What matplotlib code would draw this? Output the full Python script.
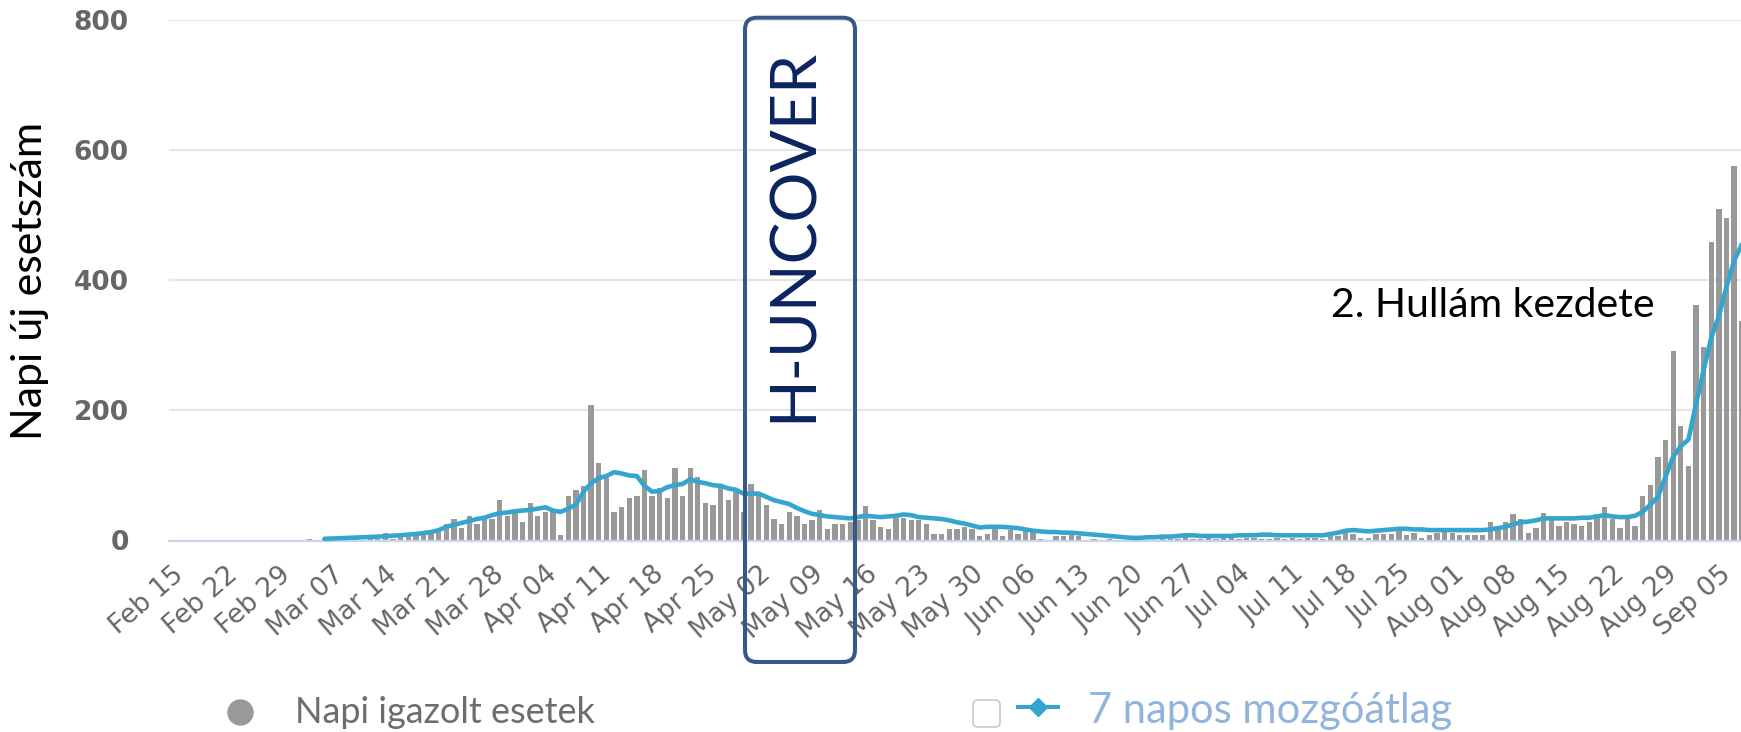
import numpy as np
import pandas as pd
import matplotlib
matplotlib.use("Agg")
import matplotlib.pyplot as plt
from matplotlib.patches import FancyBboxPatch
from matplotlib.lines import Line2D

# napi igazolt esetek 2020-03-04-tol, soronkent egy het
case_start = "2020-03-04"
daily_cases = [
    2, 0, 2, 3, 0, 2, 3,
    1, 3, 3, 11, 2, 7, 5,
    7, 8, 10, 14, 26, 33, 19,
    37, 26, 37, 33, 62, 37, 44,
    29, 58, 37, 44, 44, 8, 69,
    77, 84, 209, 119, 96, 44, 51,
    66, 69, 109, 69, 80, 66, 112,
    69, 112, 98, 58, 55, 80, 62,
    77, 44, 87, 73, 55, 33, 26,
    44, 37, 26, 31, 47, 18, 25,
    25, 28, 31, 53, 31, 21, 18,
    35, 35, 31, 31, 25, 10, 10,
    18, 18, 21, 18, 7, 10, 18,
    7, 16, 10, 14, 14, 3, 0,
    7, 7, 10, 7, 0, 3, 1,
    2, 0, 1, 2, 1, 0, 1,
    3, 3, 2, 5, 2, 2, 4,
    2, 4, 4, 2, 4, 4, 2,
    2, 4, 2, 4, 2, 4, 4,
    2, 7, 7, 18, 10, 4, 4,
    10, 10, 10, 21, 8, 11, 4,
    8, 11, 13, 11, 8, 8, 8,
    8, 29, 22, 29, 40, 33, 11,
    19, 43, 33, 22, 29, 25, 22,
    29, 40, 51, 33, 19, 33, 22,
    68, 86, 129, 154, 291, 176, 115,
    362, 298, 459, 510, 496, 575, 337,
]

# 7 napos mozgoatlag 2020-03-06-tol
avg_start = "2020-03-06"
moving_avg = [
    2.6, 3, 3.5, 4, 4.5,
    5, 5.5, 6, 6.5, 7.5, 8, 9,
    10, 11.5, 13, 16, 21, 24, 27,
    30, 33, 35, 39, 42, 43, 45,
    46, 47, 49, 51, 46, 44, 49,
    55, 75, 88, 96, 99, 105, 103,
    100, 99, 84, 75, 76, 82, 85,
    87, 94, 90, 88, 85, 84, 80,
    78, 72, 72, 72, 67, 62, 59,
    56, 50, 45, 41, 39, 37, 36,
    35, 34, 36, 38, 37, 36, 37,
    38, 40, 39, 36, 35, 34, 33,
    31, 28, 26, 23, 20, 21, 21,
    21, 20, 19, 17, 15, 14, 13,
    13, 12, 12, 11, 10, 9, 8,
    7, 6, 5, 4, 4, 5, 5,
    6, 6, 7, 8, 8, 7, 7,
    7, 7, 7, 8, 8, 8, 9,
    9, 8, 8, 8, 8, 8, 8,
    8, 10, 12, 15, 16, 15, 14,
    15, 16, 17, 18, 18, 17, 17,
    16, 16, 16, 16, 16, 16, 16,
    16, 17, 19, 21, 25, 28, 29,
    31, 34, 34, 34, 34, 34, 35,
    35, 37, 39, 37, 36, 36, 38,
    44, 55, 67, 98, 129, 145, 155,
    210, 262, 312, 345, 390, 430, 455,
]

tick_start = "2020-02-15"
tick_end = "2020-09-05"
y_ticks = [0, 200, 400, 600, 800]

ylabel = "Napi új esetszám"
box_label = "H-UNCOVER"
note = "2. Hullám kezdete"
legend_bars = "Napi igazolt esetek"
legend_line = "7 napos mozgóátlag"

bar_color = "#999999"
line_color = "#35a5d0"

case_dates = pd.date_range(case_start, periods=len(daily_cases), freq="D")
avg_dates = pd.date_range(avg_start, periods=len(moving_avg), freq="D")
tick_dates = pd.date_range(tick_start, tick_end, freq="7D")
tick_labels = [d.strftime("%b %d") for d in tick_dates]

W, H = 1741, 732
fig = plt.figure(figsize=(W / 100, H / 100), dpi=100)
ax = fig.add_axes([169 / W, 191.5 / H, (W - 169) / W, 520.5 / H])

ax.bar(case_dates, daily_cases, width=0.7, color=bar_color, zorder=2)
ax.plot(avg_dates, moving_avg, color=line_color, lw=3.3, zorder=3,
        solid_capstyle="round", solid_joinstyle="round")

t0 = pd.Timestamp(tick_start)
ax.set_xlim(t0 - pd.Timedelta(days=0.4), t0 + pd.Timedelta(days=205.9))
ax.set_ylim(0, 800)

ax.set_yticks(y_ticks)
ax.yaxis.grid(True, color="#e6e6e6", lw=1.6)
ax.set_axisbelow(True)
for side in ["top", "right", "left"]:
    ax.spines[side].set_visible(False)
ax.spines["bottom"].set_color("#ccd6eb")
ax.spines["bottom"].set_linewidth(1.6)

ax.tick_params(axis="y", length=0, pad=29, labelsize=19, labelcolor="#666666")
for lbl in ax.get_yticklabels():
    lbl.set_fontweight("bold")

ax.set_xticks(tick_dates)
ax.set_xticklabels(tick_labels, rotation=41, ha="right", rotation_mode="anchor")
ax.tick_params(axis="x", length=0, pad=15, labelsize=19, labelcolor="#666666")

# szovegek
fig.text(30 / W, 451 / H, ylabel, rotation=90, ha="center", va="center",
         fontsize=31, family="Lato", color="black")
fig.text(1331 / W, 415 / H, note, ha="left", va="baseline",
         fontsize=29.5, family="Lato", color="black")

# H-UNCOVER keret
box = FancyBboxPatch((7.45, 0.70), 1.10, 6.443,
                     boxstyle="round,pad=0,rounding_size=0.12",
                     transform=fig.dpi_scale_trans, fill=False,
                     ec="#34598a", lw=2.9, zorder=5)
fig.add_artist(box)
fig.text(794 / W, 497 / H, box_label, rotation=90, ha="center", va="center",
         fontsize=45, family="Lato", color="#0b2461", zorder=6)

# jelmagyarazat
fig.add_artist(Line2D([240 / W], [20.3 / H], marker="o", markersize=18,
                      color=bar_color, transform=fig.transFigure))
fig.text(295 / W, 8.7 / H, legend_bars, ha="left", va="baseline",
         fontsize=26, family="Lato", color="#6d6d6d")

chk = FancyBboxPatch((9.73, 0.05), 0.27, 0.27,
                     boxstyle="round,pad=0,rounding_size=0.05",
                     transform=fig.dpi_scale_trans, fc="white",
                     ec="#c8c8c8", lw=1.2)
fig.add_artist(chk)
fig.add_artist(Line2D([1018 / W, 1058 / W], [25.3 / H, 25.3 / H], lw=2.9,
                      color=line_color, transform=fig.transFigure))
fig.add_artist(Line2D([1038 / W], [25.3 / H], marker="D", markersize=9,
                      color=line_color, transform=fig.transFigure))
fig.text(1088 / W, 8.7 / H, legend_line, ha="left", va="baseline",
         fontsize=30, family="Lato", color="#92b4dc")

fig.savefig("out.png", dpi=100)
